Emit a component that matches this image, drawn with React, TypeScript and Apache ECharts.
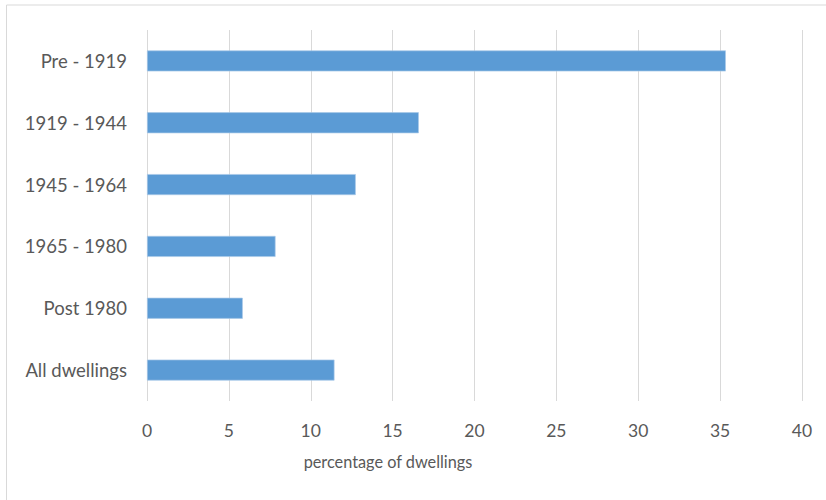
import React, { useEffect, useRef } from "react";
import * as echarts from "echarts";

const categories = ["Pre - 1919", "1919 - 1944", "1945 - 1964", "1965 - 1980", "Post 1980", "All dwellings"];
const values = [35.35, 16.6, 12.75, 7.85, 5.85, 11.45];
const xTicks = { min: 0, max: 40, interval: 5 };
const xAxisName = "percentage of dwellings";

export default function App() {
  const ref = useRef<HTMLDivElement>(null);
  useEffect(() => {
    if (!ref.current) return;
    const chart = echarts.init(ref.current, null, { renderer: "svg" });
    const font = "Lato, 'Open Sans', sans-serif";
    chart.setOption({
      animation: false,
      graphic: [
        {
          type: "rect",
          shape: { x: 6.5, y: 5, width: 830, height: 510 },
          style: { fill: "none", stroke: "#d9d9d9", lineWidth: 1 },
          silent: true,
        },
      ],
      grid: { left: 147, right: 24, top: 30, bottom: 99, containLabel: false },
      xAxis: {
        type: "value",
        min: xTicks.min,
        max: xTicks.max,
        interval: xTicks.interval,
        name: xAxisName,
        nameLocation: "middle",
        nameGap: 52,
        nameTextStyle: { color: "#595959", fontSize: 16.3, fontFamily: font, padding: [0, 173, 0, 0] },
        axisLine: { show: false },
        axisTick: { show: false },
        axisLabel: { color: "#595959", fontSize: 17.5, fontFamily: font, margin: 20 },
        splitLine: { show: true, lineStyle: { color: "#d9d9d9", width: 1 } },
      },
      yAxis: {
        type: "category",
        data: categories,
        inverse: true,
        axisLine: { show: false },
        axisTick: { show: false },
        axisLabel: { color: "#595959", fontSize: 18.5, fontFamily: font, margin: 20 },
        splitLine: { show: false },
      },
      series: [
        {
          type: "bar",
          data: values,
          barWidth: 21,
          itemStyle: { color: "#5b9bd5", borderColor: "#a9c8e8", borderWidth: 0.7 },
        },
      ],
    });
    return () => chart.dispose();
  }, []);
  return (
    <div
      ref={ref}
      style={{ position: "fixed", left: 0, top: 0, width: 826, height: 500, background: "#fff" }}
    />
  );
}
